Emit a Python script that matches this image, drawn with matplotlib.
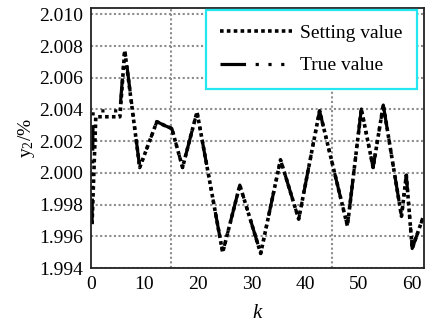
import numpy as np
import matplotlib
matplotlib.use("Agg")
import matplotlib.pyplot as plt

plt.rcParams['font.family'] = ['Liberation Serif', 'DejaVu Serif']
plt.rcParams['mathtext.fontset'] = 'stix'

# vertices of the two curves (sample index k, output y2 in %)
k_set = [0.2, 0.9, 5.4, 6.3, 9.1, 12.3, 13.8, 15.1, 17.1, 19.8, 24.6, 27.8,
         31.7, 35.4, 38.8, 42.7, 47.9, 50.5, 52.7, 54.6, 58.0, 58.9, 60.0, 62.1]
y_set = [1.99677, 2.00354, 2.00354, 2.00772, 2.00034, 2.00323, 2.00298, 2.00280,
         2.00034, 2.00385, 1.99498, 1.99923, 1.99492, 2.00083, 1.99708, 2.00391,
         1.99665, 2.00403, 2.00034, 2.00428, 1.99726, 1.99985, 1.99523, 1.99726]

k_true = [0.2, 0.4, 5.4, 6.3, 9.1, 12.3, 13.8, 15.1, 17.1, 19.8, 24.6, 27.8,
          31.7, 35.4, 38.8, 42.7, 47.9, 50.5, 52.7, 54.6, 58.0, 58.9, 60.0, 62.1]
y_true = [1.99677, 2.00391, 2.00391, 2.00785, 2.00034, 2.00323, 2.00298, 2.00280,
          2.00034, 2.00385, 1.99498, 1.99923, 1.99492, 2.00083, 1.99708, 2.00391,
          1.99665, 2.00403, 2.00034, 2.00428, 1.99726, 1.99985, 1.99523, 1.99726]

y_ticks = [1.994, 1.996, 1.998, 2.000, 2.002, 2.004, 2.006, 2.008, 2.010]
x_ticks = [0, 10, 20, 30, 40, 50, 60]
x_grid = [15, 30, 45]

fig = plt.figure(figsize=(4.28, 3.31), dpi=100)
ax = fig.add_axes([0.2126, 0.1903, 0.778, 0.7855])

ax.plot(k_set, y_set, color='black', lw=2.6, ls=(0, (1, 0.9)),
        label='Setting value')
ax.plot(k_true, y_true, color='black', lw=2.3,
        ls=(0, (8, 3, 1, 3, 1, 3, 1, 3)), label='True value')

ax.set_xlim(0, 62.2)
ax.set_ylim(1.994, 2.0104)
ax.set_yticks(y_ticks)
ax.set_yticklabels([f"{v:.3f}" for v in y_ticks])
ax.set_xticks(x_ticks)
ax.set_xticks(x_grid, minor=True)
ax.tick_params(which='both', length=0, labelsize=14, colors='black')
ax.tick_params(axis='x', pad=6)
ax.tick_params(axis='y', pad=6)

# dotted grey grid: every y tick, three vertical lines
ax.grid(False)
ax.yaxis.grid(True, which='major', color='#8c8c8c', ls=(0, (1, 1.2)), lw=1.5)
ax.xaxis.grid(True, which='minor', color='#8c8c8c', ls=(0, (1, 1.2)), lw=1.5)
ax.set_axisbelow(True)

for s in ax.spines.values():
    s.set_linewidth(1.3)
    s.set_color('#222222')

ax.set_ylabel(r'$\mathregular{y_2/\%}$', fontsize=14, labelpad=1)
ax.set_xlabel('k', fontsize=15, fontstyle='italic', labelpad=8)

leg = ax.legend(loc='upper right', bbox_to_anchor=(0.979, 0.992),
                borderaxespad=0, fancybox=False, framealpha=1,
                edgecolor='#22e6f0', fontsize=14, handlelength=3.7,
                handletextpad=0.4, borderpad=0.75, labelspacing=0.75)
leg.get_frame().set_linewidth(1.6)

fig.savefig("out.png", dpi=100)
